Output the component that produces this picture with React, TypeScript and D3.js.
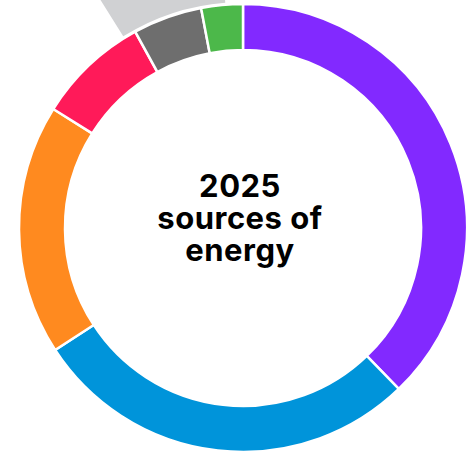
import React from "react";
import * as d3 from "d3";

const categories = ["Purple", "Blue", "Orange", "Pink", "Dark gray", "Green"];
const values = [37.8, 28.1, 18.1, 8.1, 5.0, 3.0];
const colors = ["#8229FF", "#0094DA", "#FF8A1F", "#FF1A59", "#6E6E6E", "#4CB84A"];
const titleLines = ["2025", "sources of", "energy"];

const W = 474;
const H = 455;
const cx = 243;
const cy = 228;
const outerR = 224;
const innerR = 178;

export default function App() {
  const pie = d3
    .pie<number>()
    .sort(null)
    .value((d) => d);
  const arcs = pie(values);
  const arcGen = d3.arc<d3.PieArcDatum<number>>().innerRadius(innerR).outerRadius(outerR);
  const deg = Math.PI / 180;
  const bgArc = d3.arc()({
    innerRadius: outerR + 2,
    outerRadius: 330,
    startAngle: -32 * deg,
    endAngle: -4.5 * deg,
  } as any) as string;

  return (
    <svg
      width={W}
      height={H}
      style={{ position: "absolute", left: 0, top: 0, background: "#fff" }}
    >
      <g transform={`translate(${cx},${cy})`}>
        <path d={bgArc} fill="#D0D1D3" />
        {arcs.map((a, i) => (
          <path
            key={categories[i]}
            d={arcGen(a) as string}
            fill={colors[i]}
            stroke="#fff"
            strokeWidth={2.5}
            strokeLinejoin="miter"
          />
        ))}
        <text
          textAnchor="middle"
          fontFamily="Inter, 'Open Sans', sans-serif"
          fontWeight={700}
          fontSize={31}
          letterSpacing={0.5}
          fill="#000"
        >
          {titleLines.map((t, i) => (
            <tspan key={t} x={-3} y={-31 + i * 32}>
              {t}
            </tspan>
          ))}
        </text>
      </g>
    </svg>
  );
}
